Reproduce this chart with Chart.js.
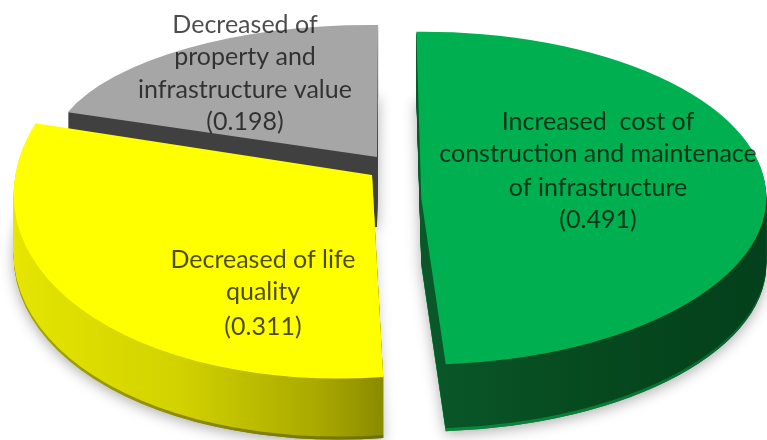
<!DOCTYPE html>
<html>
<head>
<meta charset="utf-8">
<style>
html,body{margin:0;padding:0;background:#fff;overflow:hidden}
canvas{display:block;filter:blur(0.6px)}
</style>
<script src="https://cdn.jsdelivr.net/npm/chart.js@4"></script>
</head>
<body>
<canvas id="c" width="767" height="440"></canvas>
<script>
const categories = [
  "Increased cost of construction and maintenace of infrastructure",
  "Decreased of life quality",
  "Decreased of property and infrastructure value"
];
const values = [0.491, 0.311, 0.198];
const labelLines = [
  ["Increased  cost of", "construction and maintenace", "of infrastructure"],
  ["Decreased of life", "quality"],
  ["Decreased of", "property and", "infrastructure value"]
];
const faceColors = ["#00B050", "#FFFF00", "#A6A6A6"];

// Per-slice projection of the pie plane to screen (3D look) and label placement.
const frames = [
  {a:345, b:0,  c:-2.3, d:166.5, x:421.3, y:198.3, depth:67},
  {a:358, b:-10, c:-16.5, d:203.3, x:372, y:175, depth:61},
  {a:326.7, b:5.4, c:-7.9, d:131.9, x:377, y:157, depth:70}
];
const wallStops = [
  {top:[[0.5,"#0A582A"],[0.75,"#06491F"],[1,"#03401B"]], rim:[[0.5,"#0C8A3E"],[0.8,"#0A7A36"],[1,"#085E2C"]]},
  {top:[[0,"#E6E600"],[0.25,"#D2D200"],[0.45,"#A8A800"],[0.54,"#8A8A00"]], rim:[[0,"#A8A800"],[0.54,"#6E6E00"]]},
  {top:[[0,"#404040"],[1,"#404040"]], rim:[[0,"#404040"],[1,"#404040"]]}
];
const labelPos = [
  {x:598, y:[122,154,188,220]},
  {x:263, y:[260,292,327]},
  {x:245, y:[25,57,90,122]}
];
const drawOrder = [2,1,0];

function place(ctx, arc, f, dy){
  const R = arc.outerRadius;
  ctx.setTransform(f.a/R, f.b/R, f.c/R, f.d/R, f.x, f.y + dy);
  ctx.translate(-arc.x, -arc.y);
}
function paintArc(ctx, arc, fill){
  const saved = arc.options;
  const o = Object.create(saved);
  Object.defineProperty(o, "backgroundColor", {value: fill});
  arc.options = o;
  arc.draw(ctx);
  arc.options = saved;
}
function wallGrad(ctx, arc, stops){
  const R = arc.outerRadius;
  const g = ctx.createLinearGradient(arc.x - R, 0, arc.x + R, 0);
  stops.forEach(s => g.addColorStop(s[0], s[1]));
  return g;
}
const pie3d = {
  id: "pie3d",
  beforeDatasetsDraw(chart){
    const ctx = chart.ctx;
    const arcs = chart.getDatasetMeta(0).data;
    drawOrder.forEach(i => {
      const arc = arcs[i], f = frames[i], w = wallStops[i];
      // soft drop shadow, then the side wall, then the top face
      ctx.save();
      ctx.shadowColor = "rgba(0,0,0,0.32)";
      ctx.shadowBlur = 14;
      ctx.shadowOffsetY = 3;
      place(ctx, arc, f, f.depth);
      paintArc(ctx, arc, wallGrad(ctx, arc, w.rim));
      ctx.restore();
      for (let d = f.depth; d >= 1; d--) {
        ctx.save();
        place(ctx, arc, f, d);
        paintArc(ctx, arc, wallGrad(ctx, arc, d > f.depth - 3 ? w.rim : w.top));
        ctx.restore();
      }
      ctx.save();
      place(ctx, arc, f, 0);
      arc.draw(ctx);
      ctx.restore();
    });
    return false;
  },
  afterDraw(chart){
    const ctx = chart.ctx;
    ctx.save();
    ctx.setTransform(1,0,0,1,0,0);
    ctx.font = "25px Lato, sans-serif";
    ctx.textAlign = "center";
    ctx.textBaseline = "middle";
    ctx.fillStyle = "rgba(0,0,0,0.7)";
    labelLines.forEach((lines, i) => {
      const all = lines.concat("(" + values[i].toFixed(3) + ")");
      all.forEach((t, k) => ctx.fillText(t, labelPos[i].x, labelPos[i].y[k]));
    });
    ctx.restore();
  }
};

new Chart(document.getElementById("c"), {
  type: "pie",
  data: {
    labels: categories,
    datasets: [{
      data: values,
      backgroundColor: faceColors,
      borderWidth: 0,
      hoverOffset: 0
    }]
  },
  options: {
    responsive: false,
    animation: false,
    rotation: -1.2,
    events: [],
    layout: {padding: 0},
    plugins: {legend: {display: false}, tooltip: {enabled: false}, title: {display: false}}
  },
  plugins: [pie3d]
});
</script>
</body>
</html>
